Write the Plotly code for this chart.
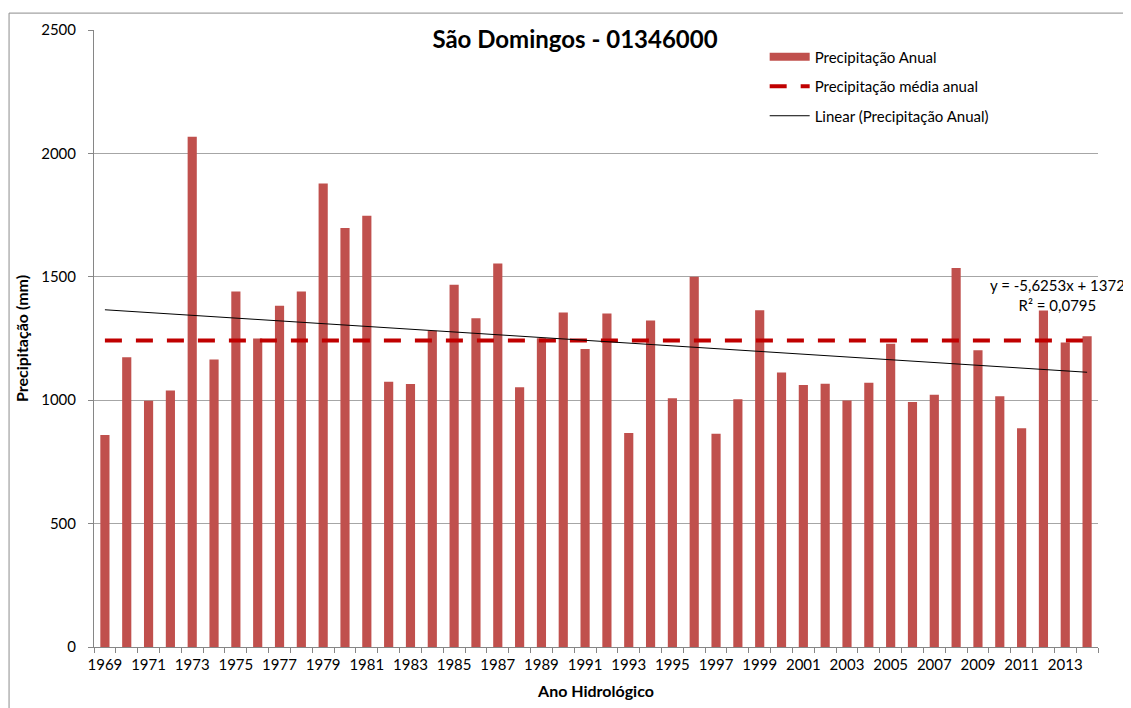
import numpy as np
import plotly.graph_objects as go

years = list(range(1969, 2015))
precip = [859, 1174, 998, 1039, 2067, 1165, 1440, 1250, 1383, 1440,
          1878, 1698, 1747, 1075, 1066, 1281, 1468, 1332, 1554, 1052,
          1251, 1355, 1207, 1351, 867, 1323, 1008, 1500, 864, 1004,
          1364, 1112, 1062, 1067, 999, 1071, 1229, 993, 1022, 1536,
          1202, 1016, 886, 1363, 1234, 1259]
tick_years = list(range(1969, 2015, 2))
trend_slope = -5.6253
trend_intercept = 1372
trend_label = "y = -5,6253x + 1372<br>R² = 0,0795"

FONT = "Lato"
BAR_COLOR = "#C0504D"

mean_val = float(np.mean(precip))
idx = np.arange(1, len(years) + 1)
trend = trend_slope * idx + trend_intercept

fig = go.Figure()
fig.add_trace(go.Bar(x=years, y=precip, marker=dict(color=BAR_COLOR, line=dict(width=0)),
                     name="Precipitação Anual", showlegend=False))
# legend entry for bars (wide swatch)
fig.add_trace(go.Scatter(x=[None], y=[None], mode="lines", name="Precipitação Anual",
                         line=dict(color=BAR_COLOR, width=8), legendgroup="a"))
fig.add_trace(go.Scatter(x=[years[0], years[-1]], y=[mean_val, mean_val], mode="lines",
                         name="Precipitação média anual", legendgroup="b",
                         line=dict(color="#C00000", width=4, dash="17px,14px")))
fig.add_trace(go.Scatter(x=[years[0], years[-1]], y=[trend[0], trend[-1]], mode="lines",
                         name="Linear (Precipitação Anual)", legendgroup="c",
                         line=dict(color="#000000", width=1)))

fig.add_annotation(x=0.960, y=0.570, xref="paper", yref="paper", text=trend_label,
                   showarrow=False, align="center", xanchor="center", yanchor="middle",
                   font=dict(family=FONT, size=15, color="#000"))

fig.add_shape(type="rect", xref="paper", yref="paper", x0=-0.0846, x1=1.3, y0=-0.3, y1=1.0274,
              line=dict(color="#8c8c8c", width=1), layer="below")

fig.update_layout(
    width=1131, height=708,
    margin=dict(l=86, r=41, t=19, b=69),
    paper_bgcolor="white", plot_bgcolor="white",
    font=dict(family=FONT, size=15, color="#000"),
    title=dict(text="<b>São Domingos - 01346000</b>", x=567/1131, xref="container",
               xanchor="center", y=1-32/708, yref="container", yanchor="middle",
               font=dict(family=FONT, size=24, color="#000")),
    bargap=0.58,
    legend=dict(x=0.668, y=0.983, xanchor="left", yanchor="top", traceorder="grouped",
                tracegroupgap=7, bgcolor="rgba(0,0,0,0)", font=dict(family=FONT, size=15),
                itemwidth=40),
    xaxis=dict(range=[1968.5, 2014.5], tickvals=tick_years, ticktext=[str(y) for y in tick_years],
               ticks="", showline=True, linecolor="#868686", linewidth=1, showgrid=False,
               zeroline=False, tickfont=dict(family=FONT, size=15), ticklabelstandoff=4,
               minor=dict(ticks="outside", ticklen=5, tickcolor="#868686", tick0=1968.5, dtick=1,
                          showgrid=False),
               title=dict(text="<b>Ano Hidrológico</b>", font=dict(family=FONT, size=16), standoff=13)),
    yaxis=dict(range=[0, 2500], dtick=500, ticks="outside", ticklen=5, tickcolor="#868686",
               showline=True, linecolor="#868686", linewidth=1, showgrid=True,
               gridcolor="#a6a6a6", gridwidth=1, zeroline=False,
               tickfont=dict(family=FONT, size=15), ticklabelstandoff=9,
               title=dict(text="<b>Precipitação (mm)</b>", font=dict(family=FONT, size=16), standoff=8)),
)

fig.write_html("out.html")
